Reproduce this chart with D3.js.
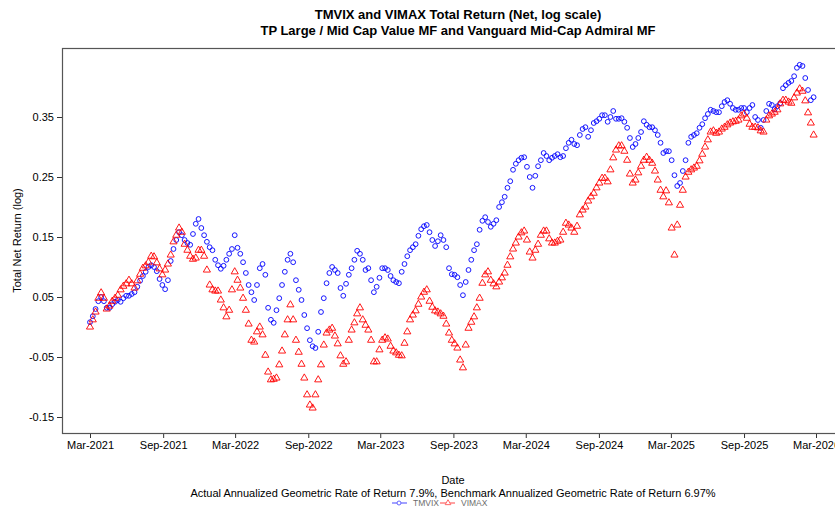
<!DOCTYPE html>
<html><head><meta charset="utf-8">
<script src="https://cdn.jsdelivr.net/npm/d3@7"></script>
<style>body{margin:0;background:#fff}svg{display:block}text{font-family:"Liberation Sans",Arial,sans-serif}</style>
</head><body><svg id="c" width="835" height="510"></svg>
<script>
// ---- data (weekly readings, log total return) ----
const startDate = "2021-03-01";
const tmvix = [0.008,0.018,0.030,0.043,0.050,0.043,0.032,0.032,0.038,0.042,0.045,0.042,0.048,0.052,0.052,0.055,0.058,0.067,0.077,0.085,
0.092,0.100,0.103,0.100,0.093,0.080,0.070,0.063,0.078,0.110,0.130,0.145,0.158,0.153,0.145,0.140,0.137,0.155,0.172,0.180,
0.165,0.153,0.142,0.133,0.128,0.112,0.103,0.097,0.102,0.112,0.122,0.130,0.153,0.132,0.122,0.108,0.090,0.070,0.058,0.045,
0.070,0.098,0.105,0.087,0.032,0.012,0.007,0.028,0.048,0.070,0.092,0.112,0.122,0.108,0.078,0.062,0.045,0.020,-0.002,-0.022,
-0.032,-0.035,-0.008,0.025,0.048,0.073,0.090,0.100,0.095,0.090,0.065,0.052,0.072,0.087,0.098,0.112,0.127,0.122,0.112,0.095,
0.098,0.078,0.058,0.067,0.082,0.098,0.098,0.095,0.085,0.078,0.075,0.073,0.092,0.105,0.118,0.128,0.133,0.138,0.152,0.163,
0.168,0.170,0.158,0.145,0.135,0.143,0.153,0.145,0.133,0.098,0.088,0.087,0.083,0.070,0.053,0.075,0.095,0.112,0.128,0.138,
0.162,0.177,0.183,0.175,0.167,0.172,0.178,0.200,0.208,0.217,0.232,0.243,0.262,0.272,0.278,0.282,0.283,0.267,0.250,0.232,
0.252,0.268,0.278,0.290,0.285,0.278,0.282,0.285,0.288,0.283,0.285,0.298,0.307,0.312,0.305,0.303,0.320,0.330,0.333,0.317,
0.328,0.340,0.343,0.347,0.353,0.353,0.342,0.350,0.360,0.347,0.347,0.348,0.342,0.332,0.315,0.300,0.305,0.315,0.325,0.343,
0.337,0.333,0.333,0.328,0.320,0.307,0.290,0.293,0.293,0.278,0.253,0.235,0.240,0.260,0.278,0.307,0.317,0.320,0.323,0.332,
0.338,0.348,0.355,0.362,0.360,0.358,0.358,0.368,0.375,0.378,0.372,0.365,0.362,0.362,0.365,0.365,0.358,0.365,0.370,0.350,
0.345,0.332,0.345,0.360,0.372,0.370,0.363,0.368,0.373,0.398,0.403,0.407,0.410,0.418,0.432,0.437,0.435,0.415,0.395,0.378,
0.383];
const vimax = [0.000,0.012,0.025,0.048,0.057,0.048,0.030,0.035,0.043,0.048,0.053,0.062,0.068,0.072,0.078,0.072,0.065,0.077,0.088,0.098,
0.102,0.108,0.118,0.117,0.107,0.097,0.087,0.095,0.105,0.120,0.142,0.153,0.165,0.158,0.138,0.128,0.118,0.113,0.115,0.128,
0.128,0.118,0.095,0.070,0.062,0.060,0.060,0.045,0.032,0.017,0.028,0.062,0.092,0.078,0.065,0.048,0.028,0.005,-0.022,-0.025,
-0.008,0.000,-0.013,-0.047,-0.075,-0.088,-0.087,-0.085,-0.063,-0.040,-0.013,0.012,0.037,0.012,-0.022,-0.042,-0.062,-0.085,-0.113,-0.130,
-0.135,-0.113,-0.088,-0.063,-0.030,-0.010,-0.005,-0.002,-0.015,-0.028,-0.048,-0.062,-0.058,-0.022,-0.005,0.007,0.022,0.032,0.012,0.003,
-0.005,-0.022,-0.058,-0.058,-0.038,-0.022,-0.018,-0.020,-0.032,-0.040,-0.043,-0.047,-0.048,-0.027,-0.008,0.012,0.020,0.027,0.038,0.050,
0.058,0.062,0.043,0.033,0.027,0.025,0.022,0.018,0.005,-0.010,-0.022,-0.028,-0.035,-0.055,-0.068,-0.030,-0.002,0.008,0.017,0.032,
0.048,0.073,0.087,0.092,0.078,0.072,0.067,0.075,0.082,0.090,0.103,0.117,0.130,0.140,0.150,0.157,0.160,0.145,0.125,0.115,
0.128,0.138,0.153,0.160,0.160,0.147,0.140,0.140,0.143,0.145,0.158,0.173,0.170,0.165,0.158,0.168,0.187,0.195,0.200,0.210,
0.217,0.223,0.232,0.240,0.248,0.248,0.242,0.262,0.282,0.295,0.302,0.302,0.293,0.278,0.255,0.240,0.245,0.257,0.268,0.278,
0.283,0.278,0.273,0.260,0.245,0.228,0.217,0.227,0.207,0.165,0.120,0.170,0.203,0.228,0.250,0.258,0.262,0.265,0.268,0.277,
0.288,0.300,0.312,0.325,0.327,0.323,0.325,0.330,0.333,0.337,0.340,0.342,0.343,0.345,0.352,0.355,0.348,0.338,0.333,0.333,
0.332,0.327,0.325,0.345,0.352,0.355,0.358,0.362,0.372,0.378,0.378,0.375,0.373,0.382,0.390,0.397,0.393,0.377,0.357,0.340,
0.320];
const yTicks = [-0.15,-0.05,0.05,0.15,0.25,0.35];
const xTickLabels = ["Mar-2021","Sep-2021","Mar-2022","Sep-2022","Mar-2023","Sep-2023","Mar-2024","Sep-2024","Mar-2025","Sep-2025","Mar-2026"];
const seriesNames = ["TMVIX","VIMAX"];
const seriesColors = ["#0000ff","#ff0000"];
const titleLines = ["TMVIX and VIMAX Total Return (Net, log scale)","TP Large / Mid Cap Value MF and Vanguard Mid-Cap Admiral MF"];
const subtitle = "Actual Annualized Geometric Rate of Return 7.9%, Benchmark Annualized Geometric Rate of Return 6.97%";

// ---- build ----
const parse = d3.timeParse("%Y-%m-%d");
const t0 = parse(startDate);
const dates = tmvix.map((_, i) => d3.timeDay.offset(t0, 7 * i));
const parseTick = d3.timeParse("%b-%Y");
const xTickDates = xTickLabels.map(parseTick);

const svg = d3.select("#c");
const L = 62, T = 48, B = 433, R = 860;
const x = d3.scaleTime().domain([xTickDates[0], xTickDates[xTickDates.length - 1]]).range([90, 816]);
const y = d3.scaleLinear().domain([-0.15, 0.35]).range([417, 117]);

// titles
svg.selectAll("text.title").data(titleLines).join("text")
  .attr("x", 458).attr("y", (d, i) => 19 + i * 16).attr("text-anchor", "middle")
  .attr("font-size", 13).attr("font-weight", "bold").attr("fill", "#000").text(d => d);

// axes
const xAxis = d3.axisBottom(x).tickValues(xTickDates).tickFormat(d3.timeFormat("%b-%Y")).tickSize(5).tickPadding(3);
const gx = svg.append("g").attr("transform", `translate(0,${B})`).call(xAxis);
gx.select(".domain").remove();
gx.selectAll("line").attr("stroke", "#333");
gx.selectAll("text").attr("font-size", 11).attr("fill", "#000").attr("font-family", '"Liberation Sans",Arial,sans-serif');

const yAxis = d3.axisLeft(y).tickValues(yTicks).tickFormat(d => d.toFixed(2)).tickSize(5).tickPadding(3);
const gy = svg.append("g").attr("transform", `translate(${L},0)`).call(yAxis);
gy.select(".domain").remove();
gy.selectAll("line").attr("stroke", "#333");
gy.selectAll("text").attr("font-size", 11).attr("fill", "#000").attr("font-family", '"Liberation Sans",Arial,sans-serif');

// box
svg.append("rect").attr("x", L + 0.5).attr("y", T + 0.5).attr("width", R - L).attr("height", B - T)
  .attr("fill", "none").attr("stroke", "#555").attr("stroke-width", 1.2);

// axis titles
svg.append("text").attr("transform", `translate(21,${(T + B) / 2}) rotate(-90)`).attr("text-anchor", "middle")
  .attr("font-size", 11).text("Total Net Return (log)");
svg.append("text").attr("x", 453).attr("y", 484).attr("text-anchor", "middle").attr("font-size", 11).text("Date");
svg.append("text").attr("x", 453).attr("y", 497).attr("text-anchor", "middle").attr("font-size", 11).text(subtitle);

// points
const tri = d3.symbol().type(d3.symbolTriangle).size(22);
svg.append("g").selectAll("circle").data(tmvix).join("circle")
  .attr("cx", (d, i) => x(dates[i])).attr("cy", d => y(d)).attr("r", 2.4)
  .attr("fill", "none").attr("stroke", seriesColors[0]).attr("stroke-width", 0.9);
svg.append("g").selectAll("path").data(vimax).join("path")
  .attr("transform", (d, i) => `translate(${x(dates[i])},${y(d)})`).attr("d", tri)
  .attr("fill", "none").attr("stroke", seriesColors[1]).attr("stroke-width", 0.9);

// legend
const lg = svg.append("g").attr("opacity", 0.6);
const legendX = [392, 440];
seriesNames.forEach((n, k) => {
  const lx = legendX[k];
  lg.append("line").attr("x1", lx).attr("x2", lx + 15).attr("y1", 503).attr("y2", 503)
    .attr("stroke", seriesColors[k]).attr("stroke-width", 1.2);
  if (k === 0) lg.append("circle").attr("cx", lx + 7).attr("cy", 503).attr("r", 2)
    .attr("fill", "#fff").attr("stroke", seriesColors[k]);
  else lg.append("path").attr("transform", `translate(${lx + 8},503)`).attr("d", d3.symbol().type(d3.symbolTriangle).size(14))
    .attr("fill", "#fff").attr("stroke", seriesColors[k]);
  lg.append("text").attr("x", lx + 21).attr("y", 506).attr("font-size", 8.5).attr("fill", "#000").text(n);
});
</script></body></html>
